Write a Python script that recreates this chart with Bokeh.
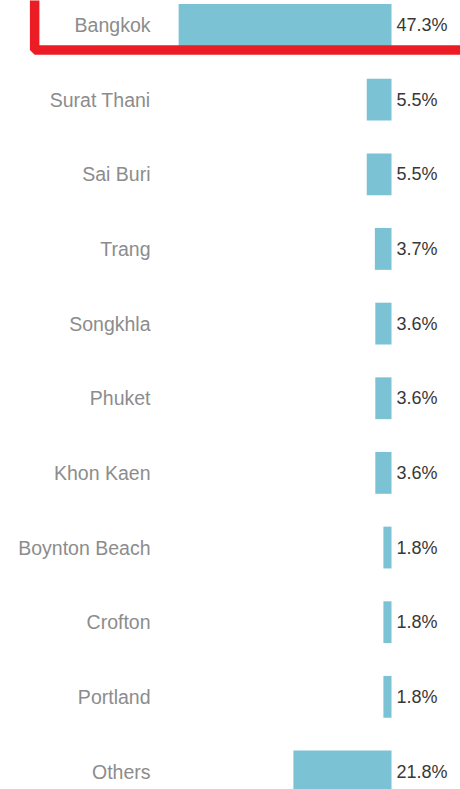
from bokeh.plotting import figure
from bokeh.models import Range1d, ColumnDataSource
from bokeh.embed import file_html
from bokeh.resources import INLINE
from bokeh.core.properties import value

# Data
cities = ["Bangkok", "Surat Thani", "Sai Buri", "Trang", "Songkhla", "Phuket",
          "Khon Kaen", "Boynton Beach", "Crofton", "Portland", "Others"]
shares = [47.3, 5.5, 5.5, 3.7, 3.6, 3.6, 3.6, 1.8, 1.8, 1.8, 21.8]
share_labels = ["47.3%", "5.5%", "5.5%", "3.7%", "3.6%", "3.6%", "3.6%",
                "1.8%", "1.8%", "1.8%", "21.8%"]

W, H = 460, 789
PX_PER_PCT = 4.5
BASE_X = 391.0       # pixel position of the bars' right edge
ROW0 = 24.5          # pixel centre of the first row
ROW = 74.65          # row spacing in pixels

rows = list(range(len(cities)))
src = ColumnDataSource(dict(
    y=rows,
    left=[-s for s in shares],
    right=[0.0] * len(shares),
    city=cities,
    lab=share_labels,
    zero=[0.0] * len(shares),
))

p = figure(width=W, height=H, output_backend="svg", toolbar_location=None,
           x_range=Range1d(-BASE_X / PX_PER_PCT, (W - BASE_X) / PX_PER_PCT),
           y_range=Range1d((H - ROW0) / ROW, -ROW0 / ROW),
           min_border=0, outline_line_color=None)
p.axis.visible = False
p.grid.visible = False
p.background_fill_color = "white"
p.border_fill_color = "white"

p.hbar(y="y", left="left", right="right", height=0.56, source=src,
       fill_color="#7bc2d5", line_color=None)

p.text(x="zero", y="y", text="city", source=src, x_offset=-241,
       text_align="right", text_baseline="middle",
       text_font=value("Liberation Sans"), text_font_size="19.5px",
       text_color="#8c8c8c")

p.text(x="zero", y="y", text="lab", source=src, x_offset=5,
       text_align="left", text_baseline="middle",
       text_font=value("Liberation Sans"), text_font_size="18px",
       text_color="#383838")

# red highlight frame around the first row
p.quad(left=[-79.3], right=[25.0], top=[-0.6], bottom=[0.335],
       fill_color=None, line_color="#ec1c24", line_width=9.5)

open("out.html", "w").write(file_html(p, INLINE))
